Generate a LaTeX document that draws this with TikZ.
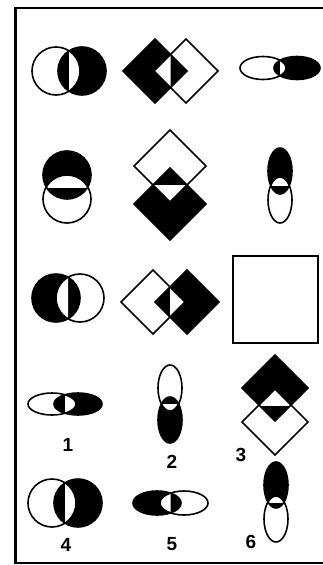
\documentclass[tikz,border=0pt]{standalone}
\usepackage{fontspec}
\setsansfont{Liberation Sans}
\begin{document}
\begin{tikzpicture}[x=1pt, y=-1pt,
  outline/.style={line width=1.6pt},
  frameline/.style={line width=2.4pt},
  numlabel/.style={font=\sffamily\bfseries\fontsize{19}{19}\selectfont, inner sep=0pt}]

  % 重叠图形：#1 白色图形，#2 黑色图形，#3 交集中变白的一半
  \def\pair#1#2#3{%
    \fill #2;
    \begin{scope}
      \clip #1; \clip #3;
      \fill[white] #2;
    \end{scope}
    \draw[outline] #1;
    \draw[outline] #2;}

  \useasboundingbox (0,0) rectangle (323,565);

  % 1. 外框（右边在图外）
  \draw[frameline] (323,8) -- (15.5,8) -- (15.5,563) -- (323,563);

  % 2. 第一行：左右重叠
  \pair{(56,71) circle (24pt)}{(82,71) circle (24pt)}{(69,40) rectangle (110,100)}
  \pair{(186,71) +(-32,0) -- +(0,-32) -- +(32,0) -- +(0,32) -- cycle}
       {(155,71) +(-32,0) -- +(0,-32) -- +(32,0) -- +(0,32) -- cycle}
       {(120,30) rectangle (170.5,110)}
  \pair{(263,68) ellipse (23pt and 11.5pt)}{(297,68) ellipse (23pt and 11.5pt)}{(280,50) rectangle (330,90)}

  % 3. 第二行：上下重叠
  \pair{(67,199) circle (24pt)}{(67,175) circle (24pt)}{(40,140) rectangle (100,187)}
  \pair{(170,166) +(-36,0) -- +(0,-36) -- +(36,0) -- +(0,36) -- cycle}
       {(170,204) +(-36,0) -- +(0,-36) -- +(36,0) -- +(0,36) -- cycle}
       {(130,185) rectangle (210,250)}
  \pair{(280,200) ellipse (12pt and 23pt)}{(280,171) ellipse (12pt and 23pt)}{(260,140) rectangle (300,185.5)}

  % 4. 第三行：左右重叠，最后一格留空
  \pair{(80,298) circle (24pt)}{(56,298) circle (24pt)}{(30,270) rectangle (68,330)}
  \pair{(153,302) +(-32,0) -- +(0,-32) -- +(32,0) -- +(0,32) -- cycle}
       {(187,302) +(-32,0) -- +(0,-32) -- +(32,0) -- +(0,32) -- cycle}
       {(170,265) rectangle (225,340)}
  \draw[outline] (233,256) rectangle (318,343);

  % 5. 选项 1--3
  \pair{(52,404) ellipse (24pt and 11pt)}{(78,404) ellipse (24pt and 11pt)}{(65,385) rectangle (110,420)}
  \pair{(170,388) ellipse (12pt and 23pt)}{(170,420) ellipse (12pt and 23pt)}{(150,404) rectangle (190,450)}
  \pair{(275,422) +(-33,0) -- +(0,-33) -- +(33,0) -- +(0,33) -- cycle}
       {(275,388) +(-33,0) -- +(0,-33) -- +(33,0) -- +(0,33) -- cycle}
       {(235,350) rectangle (315,405)}

  % 6. 选项 4--6
  \pair{(52,503) circle (24pt)}{(78,503) circle (24pt)}{(65,475) rectangle (110,535)}
  \pair{(184,503) ellipse (24pt and 12pt)}{(157,503) ellipse (24pt and 12pt)}{(125,485) rectangle (170.5,520)}
  \pair{(276,519) ellipse (12pt and 23pt)}{(276,485) ellipse (12pt and 23pt)}{(255,455) rectangle (300,502)}

  % 7. 选项编号
  \node[numlabel] (num1) at (68,445) {1};
  \node[numlabel] (num2) at (172,462) {2};
  \node[numlabel] (num3) at (241,455) {3};
  \node[numlabel] (num4) at (66,545) {4};
  \node[numlabel] (num5) at (172,544) {5};
  \node[numlabel] (num6) at (251,542) {6};

\end{tikzpicture}
\end{document}
